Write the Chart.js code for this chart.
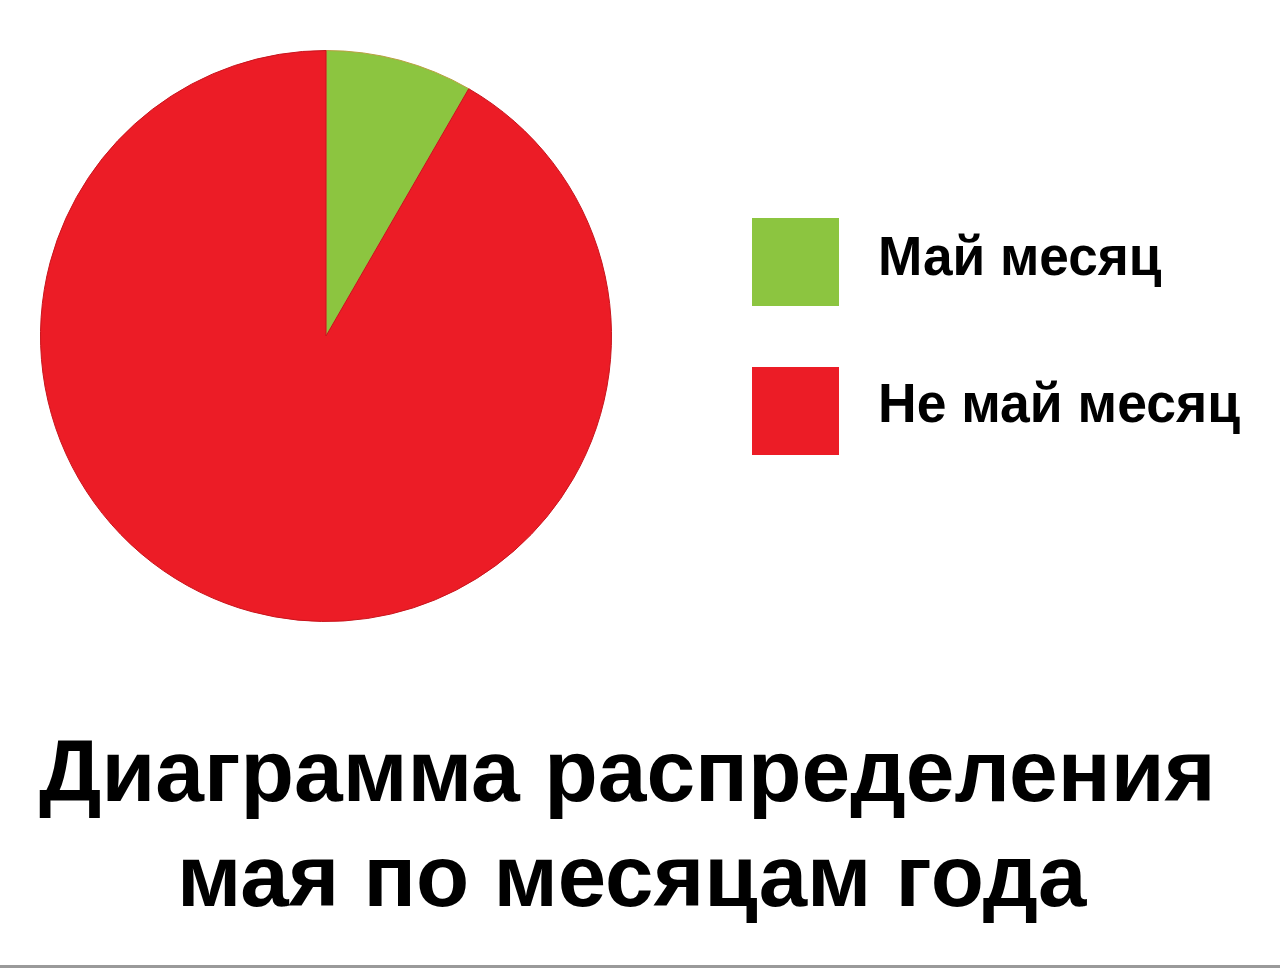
<!DOCTYPE html>
<html>
<head>
<meta charset="utf-8">
<script src="https://cdn.jsdelivr.net/npm/chart.js@4"></script>
<style>
  html, body { margin: 0; padding: 0; background: #fff; }
  body { width: 1280px; height: 968px; position: relative; overflow: hidden;
         font-family: 'Liberation Sans', Arial, sans-serif; font-weight: bold; color: #000; }
  #pie-wrap { position: absolute; left: 40px; top: 50px; width: 572px; height: 572px; }
  .legend-box { position: absolute; left: 752px; width: 87px; height: 88px; }
  .fit { position: absolute; white-space: nowrap; line-height: 1; }
  #bottom-rule { position: absolute; left: 0; right: 0; top: 965px; height: 3px; background: #9a9a9a; }
</style>
</head>
<body>
<div id="pie-wrap"><canvas id="pie-chart"></canvas></div>
<div id="legend"></div>
<div id="title"></div>
<div id="bottom-rule"></div>
<script>
// ─── Data ──────────────────────────────────────────────────────────────
const categories = ['Май месяц', 'Не май месяц'];
const values = [1, 11];           // 1 month of 12
const colors = ['#8cc540', '#ec1c26'];
const titleLines = ['Диаграмма распределения', 'мая по месяцам года'];

// ─── Pie ───────────────────────────────────────────────────────────────
new Chart(document.getElementById('pie-chart'), {
  type: 'pie',
  data: {
    labels: categories,
    datasets: [{
      data: values,
      backgroundColor: colors,
      borderColor: ['#b8a040', '#c8141c'],
      borderWidth: 1
    }]
  },
  options: {
    responsive: true,
    maintainAspectRatio: false,
    animation: false,
    layout: { padding: 0 },
    plugins: { legend: { display: false }, tooltip: { enabled: false } }
  }
});

// ─── Text helpers (fit to measured width) ──────────────────────────────
function placeText(text, fontSize, baseline, x, targetWidth, align) {
  const el = document.createElement('div');
  el.className = 'fit';
  el.textContent = text;
  el.style.fontSize = fontSize + 'px';
  el.style.top = (baseline - 0.8465 * fontSize) + 'px';
  document.body.appendChild(el);
  const w = el.offsetWidth;
  const s = targetWidth / w;
  if (align === 'center') {
    el.style.left = (x - w / 2) + 'px';
    el.style.transformOrigin = '50% 0';
  } else {
    el.style.left = x + 'px';
    el.style.transformOrigin = '0 0';
  }
  el.style.transform = 'scaleX(' + s + ')';
  return el;
}

// ─── Legend ────────────────────────────────────────────────────────────
const legendTops = [218, 367];
const legendBaselines = [275, 422];
const legendWidths = [284, 362];
categories.forEach((c, i) => {
  const box = document.createElement('div');
  box.className = 'legend-box';
  box.style.top = legendTops[i] + 'px';
  box.style.background = colors[i];
  document.getElementById('legend').appendChild(box);
  placeText(c, 56, legendBaselines[i], 878, legendWidths[i], 'left');
});

// ─── Title ─────────────────────────────────────────────────────────────
placeText(titleLines[0], 87, 801, 627.5, 1177, 'center');
placeText(titleLines[1], 87, 906, 631.5, 909, 'center');
</script>
</body>
</html>
